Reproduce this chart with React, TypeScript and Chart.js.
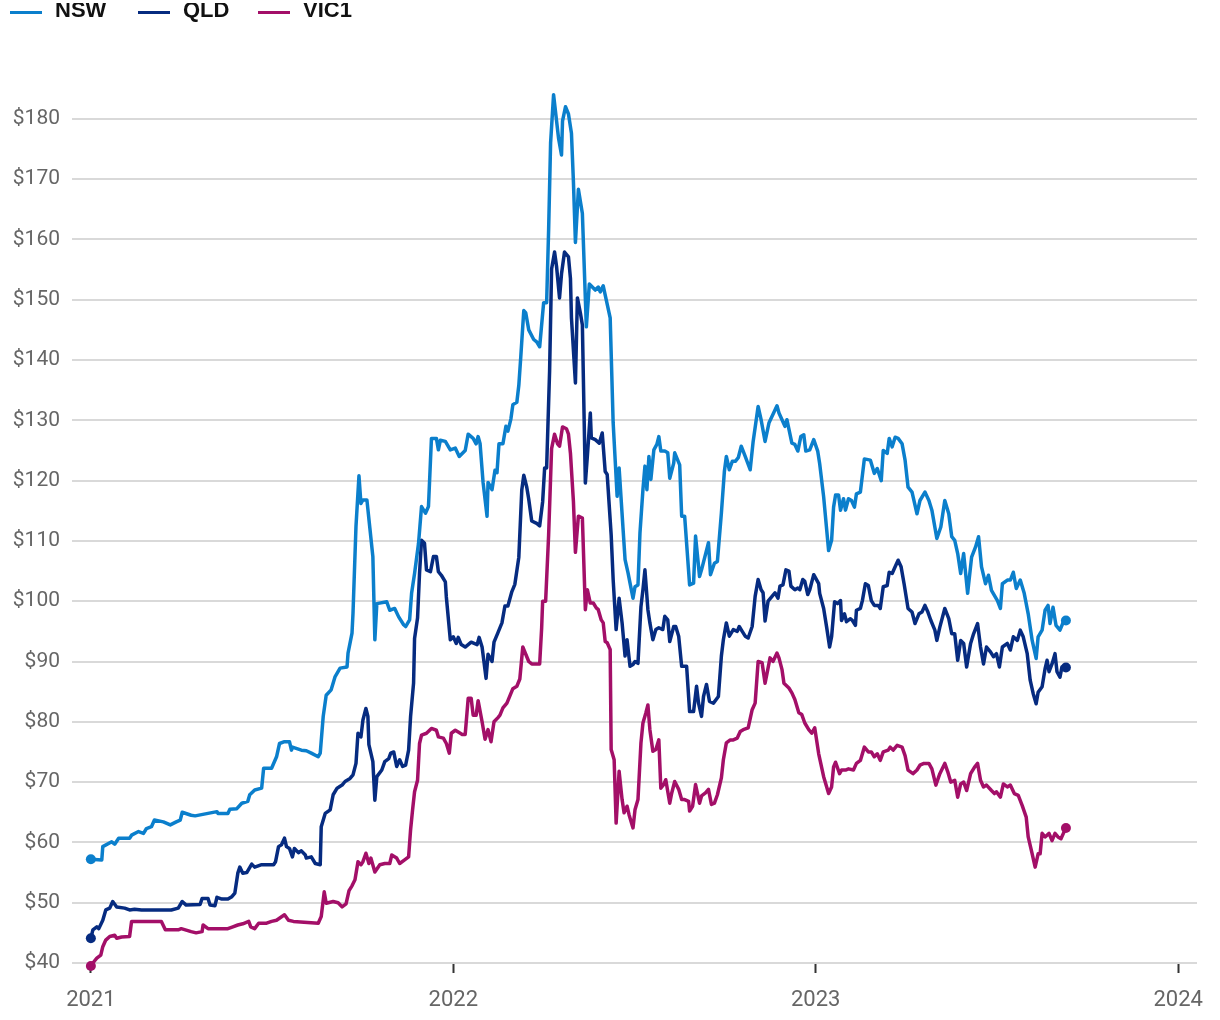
import React, { useEffect, useRef } from "react";
import { Chart, registerables } from "chart.js";

Chart.register(...registerables);

// x values are days since 1 Jan 2021
const nswDay = [0,11,12,21,24,28,39,41,48,53,56,61,64,73,80,86,90,92,101,105,127,128,138,140,147,152,158,160,165,172,174,182,187,190,195,200,202,203,212,217,222,229,231,234,237,242,246,251,258,259,263,264,267,270,272,274,278,281,284,286,288,298,301,306,310,315,317,321,323,326,330,333,337,340,343,348,350,352,357,362,367,371,377,380,385,388,390,392,395,399,400,404,407,409,411,415,418,420,423,425,429,431,433,436,438,441,446,449,452,456,459,461,463,466,471,474,475,478,481,484,486,488,491,495,499,502,508,511,513,516,519,523,526,530,532,536,538,541,543,546,548,551,553,556,558,560,562,564,567,570,572,574,578,581,583,587,588,593,595,598,603,607,609,613,615,622,624,628,631,635,638,640,643,646,649,652,655,659,664,667,672,675,679,683,691,693,699,701,706,709,712,715,718,720,724,728,732,734,738,743,746,748,750,753,755,758,760,763,766,769,771,775,779,785,789,792,796,798,802,804,807,810,813,817,820,823,827,832,835,840,844,847,852,856,860,864,867,870,873,876,879,883,887,891,894,897,901,904,907,913,916,918,923,926,929,932,936,940,944,948,952,954,958,961,964,966,969,972,976,980,982];
const nswVal = [57.2,57.1,59.3,60.1,59.7,60.7,60.7,61.2,61.8,61.5,62.3,62.6,63.7,63.4,62.9,63.4,63.7,65.0,64.5,64.4,65.1,64.8,64.8,65.5,65.6,66.5,66.8,67.9,68.7,69.0,72.3,72.3,74.2,76.4,76.7,76.7,75.3,75.8,75.3,75.2,74.8,74.2,74.8,80.9,84.4,85.3,87.5,88.9,89.1,91.4,94.7,98.0,112.4,120.8,116.2,116.8,116.8,112.1,107.4,93.6,99.6,99.9,98.5,98.8,97.4,96.1,95.8,96.9,101.3,104.6,109.6,115.7,114.6,115.7,127.0,127.0,125.1,126.7,126.5,125.1,125.4,124.0,125.0,127.7,127.0,126.1,127.3,126.1,119.7,114.1,119.7,118.5,121.7,121.3,126.1,126.1,129.0,128.2,130.2,132.6,133.0,135.8,140.6,148.2,147.8,145.0,143.4,143.0,142.2,149.5,149.5,161.5,176.0,184.0,176.8,174.0,179.6,182.0,180.8,177.6,169.5,159.5,168.3,164.3,145.5,152.6,151.6,152.1,151.3,152.3,150.0,147.0,129.6,117.4,122.1,111.9,106.9,104.7,103.0,100.5,102.4,102.7,111.3,118.5,122.4,118.5,124.0,120.2,125.1,126.0,127.3,124.9,124.9,124.6,120.4,122.9,124.6,122.6,114.1,114.1,102.7,103.0,110.8,104.1,105.2,109.7,104.4,106.3,106.6,114.6,121.5,124.0,121.8,123.2,123.2,123.8,125.7,124.0,121.8,126.5,132.3,130.1,126.5,129.6,132.4,131.2,129.0,130.1,126.2,126.0,124.9,127.3,127.6,124.9,125.1,126.8,124.9,122.8,117.3,108.4,110.1,115.6,117.6,117.6,115.1,117.0,115.1,117.0,116.7,115.6,117.8,118.1,123.6,123.4,121.2,122.0,120.0,125.0,124.5,127.0,125.6,127.2,127.0,126.1,123.4,118.9,118.1,114.5,116.7,118.1,116.7,115.1,110.4,112.3,116.7,114.5,110.7,110.1,107.9,104.6,107.9,101.3,107.3,109.0,110.7,105.7,102.9,104.3,101.8,100.1,98.8,102.9,103.5,103.5,104.8,102.1,103.5,101.3,97.9,93.5,90.5,94.1,95.2,98.5,99.3,96.3,99.0,96.0,95.2,96.8,96.8];

const qldDay = [0,2,6,8,12,15,19,22,26,34,39,44,51,81,88,92,96,110,112,118,120,125,127,132,138,142,145,148,150,153,157,162,165,172,184,186,189,192,195,197,200,203,205,209,212,216,217,222,226,231,232,236,241,244,248,253,256,261,264,267,269,272,274,277,279,280,284,286,288,293,296,300,302,305,308,311,314,317,320,322,325,326,329,331,333,336,338,342,345,348,350,353,357,358,362,365,368,370,373,377,380,383,389,391,394,398,400,404,406,410,414,417,420,424,427,431,434,436,439,441,444,449,452,455,457,459,462,464,467,469,472,474,477,481,483,484,488,490,493,495,498,500,503,504,508,512,515,518,520,524,526,529,532,535,538,540,543,546,548,551,554,556,558,561,563,566,569,572,576,578,581,583,587,589,592,595,600,603,607,610,612,615,617,620,623,627,632,635,637,640,643,647,651,653,656,659,662,666,669,672,675,677,679,682,686,689,692,694,697,700,703,705,709,712,714,717,719,722,724,728,733,734,738,741,744,746,749,752,755,756,759,761,765,767,770,771,775,777,780,783,786,789,793,795,798,802,804,807,810,813,816,819,823,827,830,834,837,840,843,846,850,852,855,860,864,867,870,873,876,879,882,886,889,893,896,899,902,906,909,912,915,918,923,926,929,933,936,939,943,946,949,952,954,958,961,963,965,968,971,973,976,978,982];
const qldVal = [44.1,45.5,46.0,45.7,47.1,48.8,49.1,50.2,49.3,49.1,48.8,48.9,48.8,48.8,49.1,50.2,49.6,49.7,50.7,50.7,49.6,49.5,50.9,50.6,50.6,51.0,51.6,54.9,55.9,54.9,55.0,56.4,55.9,56.3,56.3,56.8,59.3,59.6,60.7,59.3,59.0,57.6,59.0,58.3,58.6,57.9,57.4,57.6,56.5,56.3,62.6,64.8,65.4,67.9,69.0,69.5,70.1,70.6,71.2,73.1,78.1,77.5,80.3,82.2,80.9,76.2,73.4,67.0,70.9,72.0,73.4,73.9,74.8,75.0,72.6,73.7,72.6,72.8,75.3,80.9,86.4,93.8,97.2,104.6,110.1,109.6,105.2,104.9,107.4,107.4,104.9,104.3,103.2,100.7,93.6,94.1,93.0,94.0,92.8,92.4,92.8,93.2,92.8,94.0,92.4,87.2,91.2,90.0,93.2,94.8,96.4,99.2,99.2,101.6,102.8,107.3,118.5,120.9,118.9,116.9,113.3,112.9,112.5,116.5,122.1,122.1,138.2,155.1,157.9,155.5,150.3,154.3,157.9,157.1,153.5,147.0,136.2,150.3,147.8,145.8,119.6,124.0,131.2,127.1,126.8,126.2,127.9,121.5,121.0,111.0,103.6,95.3,100.5,96.4,90.9,93.6,89.2,89.5,90.0,89.7,99.1,101.9,105.2,98.6,96.4,93.6,95.3,95.6,95.3,97.5,96.9,93.3,95.8,95.8,94.2,89.2,89.2,81.7,81.7,85.9,83.1,80.9,84.2,86.2,83.4,83.1,84.2,90.9,93.6,96.4,94.2,95.3,95.0,95.8,95.0,94.2,93.9,95.8,100.8,103.6,101.9,101.4,96.7,100.0,100.8,101.4,100.5,102.5,102.7,105.2,105.0,102.5,101.9,102.2,101.9,103.6,103.3,101.1,101.9,104.4,102.9,101.3,98.8,95.7,92.4,94.1,99.9,99.6,100.1,96.8,97.9,96.6,97.1,96.8,96.0,98.5,98.8,100.1,102.9,102.6,100.1,99.3,99.3,98.8,102.4,102.6,104.8,104.6,105.7,106.8,105.7,102.9,98.8,98.2,96.3,97.9,98.2,99.3,98.2,96.8,95.2,93.5,95.7,98.8,97.1,94.6,94.6,90.2,93.5,93.0,89.1,93.0,94.6,96.3,92.4,89.6,92.4,91.6,90.8,91.3,89.1,92.4,93.0,91.9,94.1,93.5,95.2,94.1,91.3,86.9,84.7,83.0,84.9,85.8,88.8,90.2,88.3,89.6,91.3,88.3,87.4,89.1,89.0];

const vicDay = [0,2,6,10,12,15,19,24,26,31,39,41,71,75,88,91,101,106,112,113,118,138,143,148,153,159,161,165,169,177,182,187,195,199,204,229,232,235,237,244,249,253,257,260,263,266,269,272,274,277,280,282,286,291,296,301,303,308,311,316,320,322,324,326,329,331,333,338,343,348,350,355,358,361,363,367,370,374,377,380,383,385,388,390,394,397,400,403,406,410,412,415,419,422,425,429,432,435,438,441,444,452,454,455,458,461,464,467,470,472,475,479,481,483,486,488,491,495,498,500,503,506,509,511,514,516,518,520,523,524,527,529,532,535,537,540,542,546,548,551,554,556,559,561,563,566,569,572,574,577,579,583,585,588,592,595,598,602,603,606,609,613,615,619,622,625,628,631,635,637,640,644,647,651,654,657,662,666,669,672,676,679,682,684,687,691,693,696,698,703,706,709,713,716,719,723,726,729,733,738,743,746,748,750,754,756,760,763,768,771,775,779,783,786,789,792,795,798,803,805,808,812,817,820,823,828,832,835,839,844,847,851,855,860,863,866,870,873,876,879,882,886,890,893,896,899,902,907,910,912,916,919,923,926,930,934,938,942,944,948,951,954,956,958,961,965,968,971,974,977,980,982];
const vicVal = [39.5,40.0,40.8,41.3,42.7,43.8,44.4,44.6,44.1,44.3,44.4,46.9,46.9,45.5,45.5,45.7,45.2,45.0,45.2,46.3,45.7,45.7,46.0,46.3,46.5,46.9,46.0,45.7,46.6,46.6,46.9,47.1,48.0,47.1,46.9,46.6,47.7,51.8,49.9,50.2,50.0,49.3,49.8,52.0,52.8,53.8,56.8,56.3,56.8,58.2,56.5,57.4,55.1,56.3,56.5,56.5,57.9,57.4,56.5,57.1,57.6,62.1,65.4,68.4,70.3,76.4,77.8,78.1,78.9,78.6,77.5,77.3,76.4,74.8,78.1,78.6,78.3,77.9,77.9,83.9,83.9,81.1,81.1,83.5,80.0,77.1,78.7,76.7,80.0,80.7,81.1,82.3,83.1,84.3,85.5,85.9,87.1,92.4,91.2,90.0,89.6,89.6,95.6,100.0,100.0,110.9,125.3,127.7,126.1,125.7,128.9,128.6,127.7,124.5,116.5,108.1,114.1,113.8,98.6,101.9,99.7,99.7,98.9,98.6,96.9,96.4,93.3,93.1,92.0,75.4,73.7,63.2,71.8,67.1,64.9,66.0,64.6,62.4,65.4,67.1,76.5,79.8,81.5,82.8,78.7,75.1,75.4,77.0,69.0,69.6,70.4,66.5,68.2,70.1,68.8,67.1,67.1,66.8,65.2,66.0,69.6,66.5,67.7,68.2,68.8,66.3,66.5,67.9,70.7,73.7,76.5,77.0,77.0,77.3,78.4,78.7,79.0,82.0,83.1,90.0,89.8,86.4,88.9,90.6,90.0,91.4,90.6,88.7,86.4,85.6,84.8,83.7,81.5,81.2,79.8,78.7,78.1,79.0,74.7,70.9,68.1,69.2,72.5,73.3,71.4,72.0,72.0,72.2,72.0,73.1,73.6,75.8,75.0,75.0,74.2,74.7,73.6,75.0,75.3,75.8,75.3,76.1,75.8,74.4,72.0,71.4,72.0,72.8,73.1,73.1,72.2,69.5,71.4,73.1,71.7,70.0,70.3,67.5,69.7,70.0,68.6,71.4,72.5,73.1,70.3,69.2,69.5,68.6,68.1,68.4,67.5,69.7,69.2,69.5,68.1,67.8,66.1,64.2,60.9,58.1,55.9,58.1,58.1,61.5,60.9,61.5,60.3,61.5,60.9,60.6,61.7,62.4];

const seriesNames = ["NSW", "QLD", "VIC1"];
const seriesColors = ["#0b7fcc", "#062b80", "#a30f68"];

const yearTickDays = [0, 365, 730, 1095];
const yearLabels = ["2021", "2022", "2023", "2024"];
const priceTicks = [40, 50, 60, 70, 80, 90, 100, 110, 120, 130, 140, 150, 160, 170, 180];

const legendSwatchX = [10, 138, 258];
const legendTextX = [55, 183, 303];

export default function App() {
  const ref = useRef<HTMLCanvasElement>(null);

  useEffect(() => {
    const mk = (days: number[], vals: number[]) => days.map((d, i) => ({ x: d, y: vals[i] }));
    const all = [mk(nswDay, nswVal), mk(qldDay, qldVal), mk(vicDay, vicVal)];
    const datasets = all.map((data, k) => ({
      label: seriesNames[k],
      data,
      borderColor: seriesColors[k],
      backgroundColor: seriesColors[k],
      borderWidth: 3.5,
      tension: 0,
      fill: false,
      clip: false as any,
      borderJoinStyle: "round" as const,
      borderCapStyle: "round" as const,
      pointRadius: (ctx: any) => (ctx.dataIndex === 0 || ctx.dataIndex === data.length - 1 ? 5 : 0),
      pointBorderWidth: 0,
      pointBackgroundColor: seriesColors[k],
      pointHoverRadius: 0,
    }));

    const chart = new Chart(ref.current as HTMLCanvasElement, {
      type: "line",
      data: { datasets },
      options: {
        animation: false,
        responsive: false,
        events: [],
        layout: { padding: { top: 58.5, right: 23, left: 0, bottom: 0 } },
        plugins: { legend: { display: false }, tooltip: { enabled: false } },
        scales: {
          x: {
            type: "linear",
            min: -19,
            max: 1114,
            afterBuildTicks: (s: any) => {
              s.ticks = yearTickDays.map((v) => ({ value: v }));
            },
            afterFit: (s: any) => {
              s.height = 57;
            },
            ticks: {
              autoSkip: false,
              maxRotation: 0,
              padding: 14,
              color: "#666666",
              font: { family: "Roboto", size: 22 },
              callback: (_v: any, i: number) => yearLabels[i],
            },
            grid: {
              display: true,
              drawOnChartArea: false,
              drawTicks: true,
              tickLength: 10,
              tickColor: "#333333",
              tickWidth: 2,
            },
            border: { display: false },
          },
          y: {
            type: "linear",
            min: 40,
            max: 190,
            afterBuildTicks: (s: any) => {
              s.ticks = priceTicks.map((v) => ({ value: v }));
            },
            afterFit: (s: any) => {
              s.width = 72;
            },
            ticks: {
              padding: 12,
              color: "#666666",
              font: { family: "Roboto", size: 21 },
              callback: (v: any) => "$" + v,
            },
            grid: { color: "#d9d9d9", lineWidth: 2, drawTicks: false },
            border: { display: false },
          },
        },
      },
    });
    return () => chart.destroy();
  }, []);

  return (
    <div style={{ position: "absolute", left: 0, top: 0, width: 1220, height: 1020, overflow: "hidden", background: "#ffffff" }}>
      <canvas ref={ref} width={1220} height={1020} style={{ position: "absolute", left: 0, top: 0, display: "block" }} />
      <div style={{ position: "absolute", left: 0, top: 3, width: 420, height: 20, overflow: "hidden" }}>
        {seriesNames.map((n, i) => (
          <React.Fragment key={n}>
            <div style={{ position: "absolute", left: legendSwatchX[i], top: 8, width: 32, height: 3, background: seriesColors[i] }} />
            <span
              style={{
                position: "absolute",
                left: legendTextX[i],
                top: -4.3,
                font: "bold 22px 'Liberation Sans', Arial, sans-serif",
                lineHeight: "22px",
                color: "#111111",
                whiteSpace: "nowrap",
              }}
            >
              {n}
            </span>
          </React.Fragment>
        ))}
      </div>
    </div>
  );
}
